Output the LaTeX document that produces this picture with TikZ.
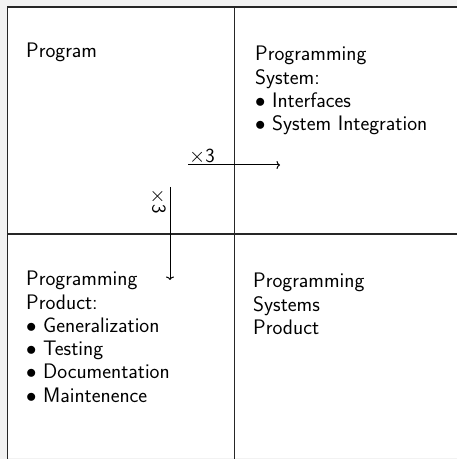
\documentclass[tikz,border=0pt]{standalone}
\usepackage{fontspec}
\usetikzlibrary{positioning, arrows.meta}

\begin{document}
\begin{tikzpicture}[
		x=1pt, y=1pt,
		grid/.style = {draw=black!85, line width=1.3pt},
		cell/.style = {inner sep=0pt, align=left, anchor=north west, font=\sffamily\fontsize{21}{23.3}\selectfont},
		times/.style = {inner sep=1pt, font=\sffamily\fontsize{20}{21}\selectfont},
		arr/.style = {-{To[length=3.5pt, width=8pt]}, line width=1pt}
	]
	\useasboundingbox (0,0) rectangle (457,459);
	\fill[black!5] (0,0) rectangle (457,459);
	\fill[white] (8,1) rectangle (457,452);
	% Frame and quadrants.
	\coordinate (tl) at (7.5,452);
	\coordinate (tr) at (457,452);
	\coordinate (bl) at (7.5,0);
	\coordinate (mt) at (234.5,452);
	\coordinate (mb) at (234.5,0);
	\coordinate (ml) at (7.5,225);
	\coordinate (mr) at (457,225);
	\draw[grid] (bl) -- (tl) -- (tr);
	\draw[grid] (mt) -- (mb);
	\draw[grid] (ml) -- (mr);
	% Quadrant texts.
	\node[cell] (prog) at (26,416) {Program};
	\node[cell] (sys) at (255,413) {Programming\\System:\\$\bullet$ Interfaces\\$\bullet$ System Integration};
	\node[cell] (prod) at (26,188) {Programming\\Product:\\$\bullet$ Generalization\\$\bullet$ Testing\\$\bullet$ Documentation\\$\bullet$ Maintenence};
	\node[cell] (sysprod) at (253,186) {Programming\\Systems\\Product};
	% Arrows.
	\coordinate (h1) at (188,294);
	\coordinate (h2) at (280,294);
	\coordinate (v1) at (170,272);
	\coordinate (v2) at (170,179);
	\draw[arr] (h1) to (h2);
	\draw[arr] (v1) to (v2);
	\node[times, anchor=south west] (hx) at (h1) {$\times$3};
	\node[times, rotate=-90, anchor=north west] (vx) at ([xshift=-3pt]v1) {$\times$3};
\end{tikzpicture}
\end{document}
